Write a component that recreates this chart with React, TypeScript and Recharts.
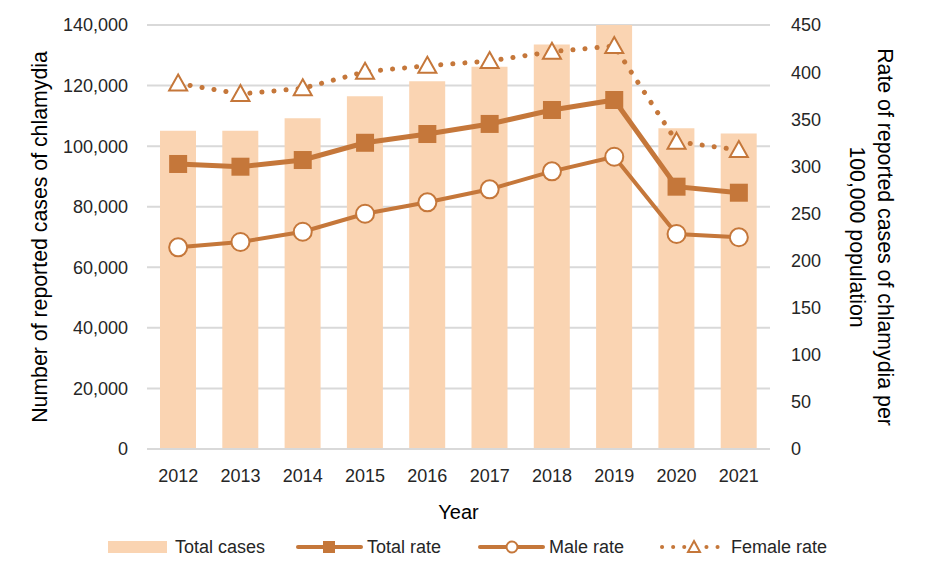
import React from 'react';
import { ComposedChart, Bar, Line, XAxis, YAxis, CartesianGrid } from 'recharts';

const years = ['2012', '2013', '2014', '2015', '2016', '2017', '2018', '2019', '2020', '2021'];
const totalCases = [105100, 105100, 109200, 116500, 121400, 126200, 133600, 140000, 105900, 104200];
const totalRate = [302.5, 299.6, 306.7, 325, 334.3, 345, 359.8, 370.4, 278.4, 272];
const maleRate = [214, 219.7, 230.6, 249.7, 261.8, 275.6, 294.7, 310.2, 228.2, 224.7];
const femaleRate = [388, 376.8, 382.8, 400.4, 406.8, 411.8, 421.7, 427.7, 326.2, 317.3];

const leftTicks = [0, 20000, 40000, 60000, 80000, 100000, 120000, 140000];
const rightTicks = [0, 50, 100, 150, 200, 250, 300, 350, 400, 450];

const BAR = '#FAD4B2';
const BROWN = '#C5773A';
const GRID = '#D9D9D9';
const FONT = '"Liberation Sans", Arial, sans-serif';

const data = years.map((year, i) => ({
  year,
  cases: totalCases[i],
  total: totalRate[i],
  male: maleRate[i],
  female: femaleRate[i],
}));

const SquareDot = (props: any) => {
  const { cx, cy, index } = props;
  if (cx == null || cy == null) return <g key={`sq-${index}`} />;
  return <rect key={`sq-${index}`} x={cx - 9} y={cy - 9} width={18} height={18} fill={BROWN} />;
};

const TriangleDot = (props: any) => {
  const { cx, cy, index } = props;
  if (cx == null || cy == null) return <g key={`tri-${index}`} />;
  return (
    <path
      key={`tri-${index}`}
      d={`M${cx},${cy - 9} L${cx + 9},${cy + 7} L${cx - 9},${cy + 7} Z`}
      fill="#fff"
      stroke={BROWN}
      strokeWidth={2}
      strokeLinejoin="miter"
    />
  );
};

const LeftLabel = (props: any) => {
  const { viewBox } = props;
  const cy = viewBox.y + viewBox.height / 2;
  return (
    <text x={40} y={cy} transform={`rotate(-90 40 ${cy})`} textAnchor="middle" dominantBaseline="central"
      fontSize={21.3} fill="#000" fontFamily={FONT}>
      Number of reported cases of chlamydia
    </text>
  );
};

const RightLabel = (props: any) => {
  const { viewBox } = props;
  const cy = viewBox.y + viewBox.height / 2;
  return (
    <g fontSize={21.3} fill="#000" fontFamily={FONT}>
      <text x={885} y={cy} transform={`rotate(90 885 ${cy})`} textAnchor="middle" dominantBaseline="central">
        Rate of reported cases of chlamydia per
      </text>
      <text x={857} y={cy} transform={`rotate(90 857 ${cy})`} textAnchor="middle" dominantBaseline="central">
        100,000 population
      </text>
    </g>
  );
};

const legendItems = [
  { name: 'Total cases', kind: 'bar', x: 108 },
  { name: 'Total rate', kind: 'square', x: 298 },
  { name: 'Male rate', kind: 'circle', x: 480 },
  { name: 'Female rate', kind: 'triangle', x: 662 },
];

const Legend = () => (
  <svg width={930} height={30} style={{ position: 'absolute', left: 0, top: 532 }} fontFamily={FONT}>
    {legendItems.map((item) => {
      const y = 15;
      const x = item.x;
      let icon;
      if (item.kind === 'bar') {
        icon = <rect x={x} y={y - 6} width={59} height={12} fill={BAR} />;
      } else if (item.kind === 'square') {
        icon = (
          <g>
            <line x1={x} x2={x + 63} y1={y} y2={y} stroke={BROWN} strokeWidth={4} strokeLinecap="round" />
            <rect x={x + 25} y={y - 6} width={12} height={12} fill={BROWN} />
          </g>
        );
      } else if (item.kind === 'circle') {
        icon = (
          <g>
            <line x1={x} x2={x + 63} y1={y} y2={y} stroke={BROWN} strokeWidth={4} strokeLinecap="round" />
            <circle cx={x + 32} cy={y} r={5.5} fill="#fff" stroke={BROWN} strokeWidth={2} />
          </g>
        );
      } else {
        icon = (
          <g>
            <line x1={x} x2={x + 63} y1={y} y2={y} stroke={BROWN} strokeWidth={4} strokeLinecap="round" strokeDasharray="0.1 11" />
            <path d={`M${x + 32},${y - 6} L${x + 38},${y + 5} L${x + 26},${y + 5} Z`} fill="#fff" stroke={BROWN} strokeWidth={2} />
          </g>
        );
      }
      const tx = item.kind === 'bar' ? x + 67 : x + 69;
      return (
        <g key={item.name}>
          {icon}
          <text x={tx} y={y} dominantBaseline="central" fontSize={18} fill="#262626">{item.name}</text>
        </g>
      );
    })}
  </svg>
);

const App = () => {
  return (
    <div style={{ position: 'relative', width: 930, height: 581, background: '#fff' }}>
      <style>{`body{margin:0}`}</style>
      <ComposedChart
        width={930}
        height={581}
        data={data}
        margin={{ top: 25, right: 0, left: 0, bottom: 0 }}
        barCategoryGap="21%"
        style={{ fontFamily: FONT }}
      >
        <CartesianGrid yAxisId="left" vertical={false} stroke={GRID} strokeWidth={2} />
        <XAxis
          dataKey="year"
          height={132}
          axisLine={{ stroke: GRID, strokeWidth: 2 }}
          tickLine={false}
          tickSize={0}
          tickMargin={20}
          tick={{ fill: '#262626', fontSize: 18 }}
          label={(props: any) => {
            const { viewBox } = props;
            const cx = viewBox.x + viewBox.width / 2;
            return (
              <text x={cx} y={512} textAnchor="middle" dominantBaseline="central" fontSize={20} fill="#000" fontFamily={FONT}>
                Year
              </text>
            );
          }}
        />
        <YAxis
          yAxisId="left"
          width={147}
          domain={[0, 140000]}
          ticks={leftTicks}
          axisLine={false}
          tickLine={false}
          tickSize={0}
          tickMargin={19}
          tick={{ fill: '#262626', fontSize: 18 }}
          tickFormatter={(v) => Number(v).toLocaleString('en-US')}
          label={LeftLabel}
        />
        <YAxis
          yAxisId="right"
          orientation="right"
          width={160}
          domain={[0, 450]}
          ticks={rightTicks}
          axisLine={false}
          tickLine={false}
          tickSize={0}
          tickMargin={21}
          tick={{ fill: '#262626', fontSize: 18 }}
          label={RightLabel}
        />
        <Bar yAxisId="left" dataKey="cases" fill={BAR} barSize={36} isAnimationActive={false} />
        <Line
          yAxisId="right"
          dataKey="female"
          stroke={BROWN}
          strokeWidth={5}
          strokeDasharray="0.1 12"
          strokeLinecap="round"
          dot={TriangleDot}
          activeDot={false}
          isAnimationActive={false}
        />
        <Line
          yAxisId="right"
          dataKey="male"
          stroke={BROWN}
          strokeWidth={4}
          dot={{ r: 9, fill: '#fff', stroke: BROWN, strokeWidth: 2 }}
          activeDot={false}
          isAnimationActive={false}
        />
        <Line
          yAxisId="right"
          dataKey="total"
          stroke={BROWN}
          strokeWidth={5}
          dot={SquareDot}
          activeDot={false}
          isAnimationActive={false}
        />
      </ComposedChart>
      <Legend />
    </div>
  );
};

export default App;
